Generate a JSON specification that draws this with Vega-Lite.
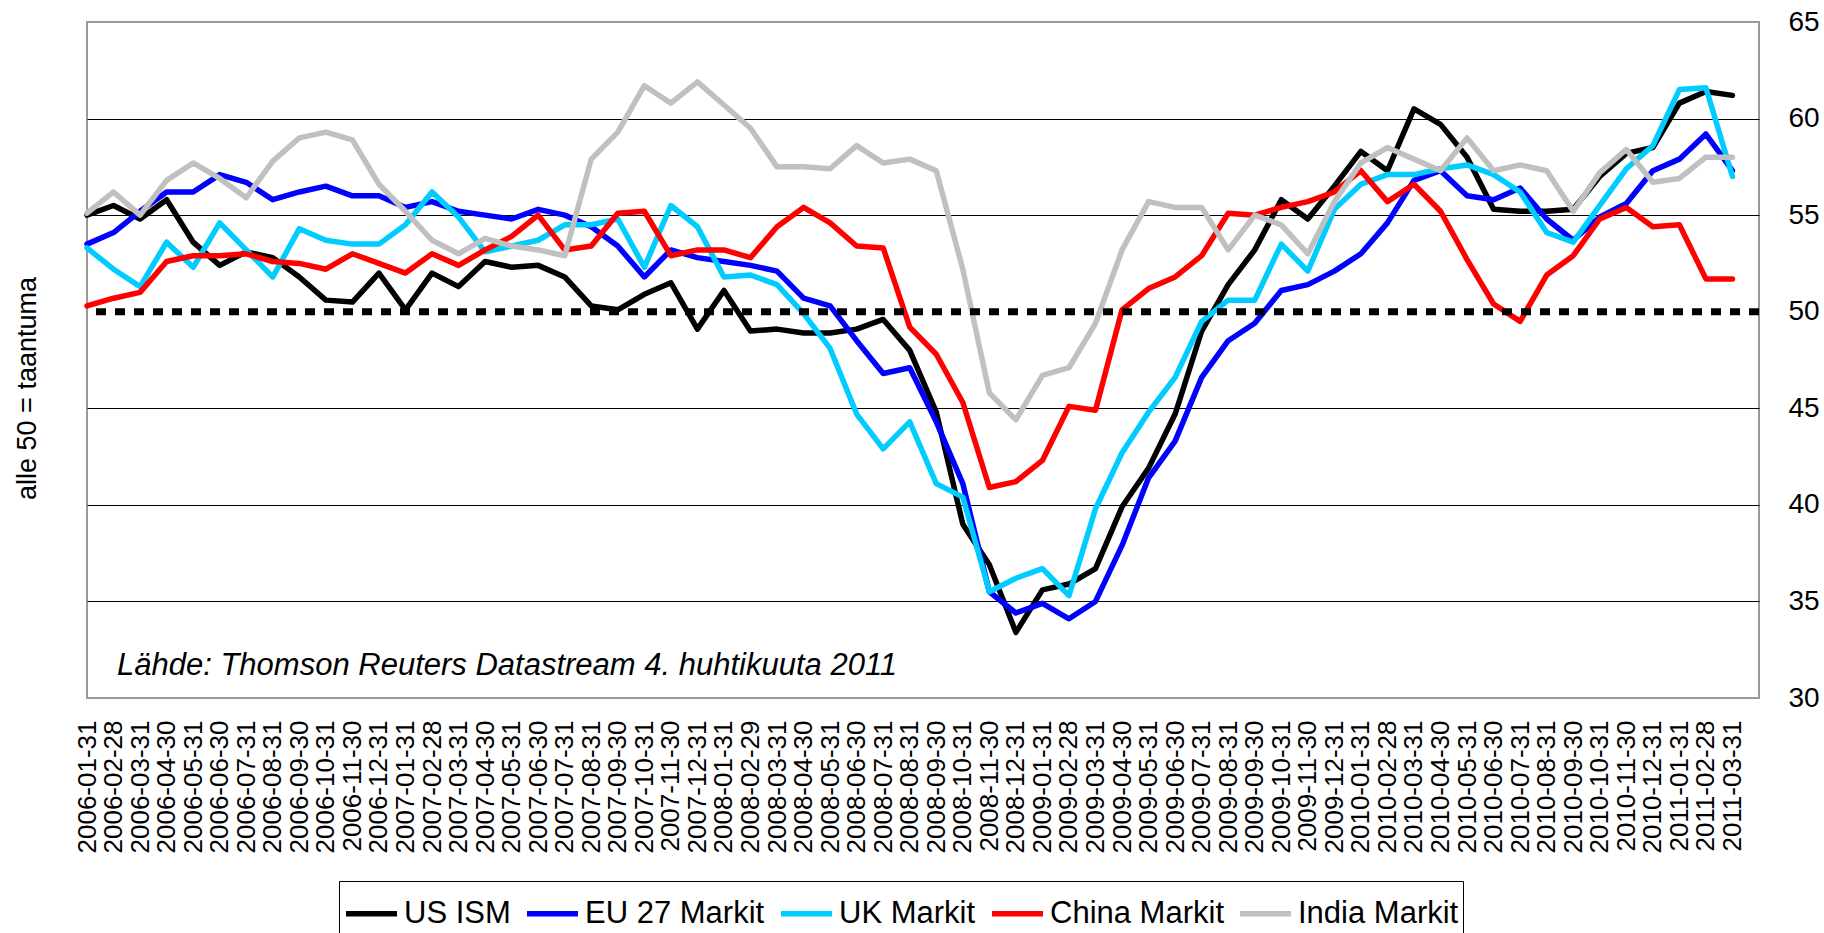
{
  "$schema": "https://vega.github.io/schema/vega-lite/v6.json",
  "autosize": {"type": "none"},
  "padding": {"left": 87, "top": 22, "right": 65, "bottom": 235},
  "width": 1672,
  "height": 676,
  "background": "white",
  "config": {
    "view": {"stroke": "#999999", "strokeWidth": 2},
    "font": "Liberation Sans",
    "axis": {"labelFont": "Liberation Sans", "titleFont": "Liberation Sans", "labelColor": "#000", "titleColor": "#000"},
    "legend": {"labelFont": "Liberation Sans"}
  },
  "datasets": {
    "pmi": [
      {"d":"2006-01-31","s":"US ISM","v":55.0},{"d":"2006-02-28","s":"US ISM","v":55.5},{"d":"2006-03-31","s":"US ISM","v":54.8},{"d":"2006-04-30","s":"US ISM","v":55.8},{"d":"2006-05-31","s":"US ISM","v":53.6},{"d":"2006-06-30","s":"US ISM","v":52.4},{"d":"2006-07-31","s":"US ISM","v":53.1},{"d":"2006-08-31","s":"US ISM","v":52.8},{"d":"2006-09-30","s":"US ISM","v":51.8},{"d":"2006-10-31","s":"US ISM","v":50.6},{"d":"2006-11-30","s":"US ISM","v":50.5},{"d":"2006-12-31","s":"US ISM","v":52.0},
      {"d":"2007-01-31","s":"US ISM","v":50.1},{"d":"2007-02-28","s":"US ISM","v":52.0},{"d":"2007-03-31","s":"US ISM","v":51.3},{"d":"2007-04-30","s":"US ISM","v":52.6},{"d":"2007-05-31","s":"US ISM","v":52.3},{"d":"2007-06-30","s":"US ISM","v":52.4},{"d":"2007-07-31","s":"US ISM","v":51.8},{"d":"2007-08-31","s":"US ISM","v":50.3},{"d":"2007-09-30","s":"US ISM","v":50.1},{"d":"2007-10-31","s":"US ISM","v":50.9},{"d":"2007-11-30","s":"US ISM","v":51.5},{"d":"2007-12-31","s":"US ISM","v":49.1},
      {"d":"2008-01-31","s":"US ISM","v":51.1},{"d":"2008-02-29","s":"US ISM","v":49.0},{"d":"2008-03-31","s":"US ISM","v":49.1},{"d":"2008-04-30","s":"US ISM","v":48.9},{"d":"2008-05-31","s":"US ISM","v":48.9},{"d":"2008-06-30","s":"US ISM","v":49.1},{"d":"2008-07-31","s":"US ISM","v":49.6},{"d":"2008-08-31","s":"US ISM","v":48.0},{"d":"2008-09-30","s":"US ISM","v":44.8},{"d":"2008-10-31","s":"US ISM","v":39.0},{"d":"2008-11-30","s":"US ISM","v":36.9},{"d":"2008-12-31","s":"US ISM","v":33.4},
      {"d":"2009-01-31","s":"US ISM","v":35.6},{"d":"2009-02-28","s":"US ISM","v":35.9},{"d":"2009-03-31","s":"US ISM","v":36.7},{"d":"2009-04-30","s":"US ISM","v":39.9},{"d":"2009-05-31","s":"US ISM","v":41.9},{"d":"2009-06-30","s":"US ISM","v":44.7},{"d":"2009-07-31","s":"US ISM","v":49.0},{"d":"2009-08-31","s":"US ISM","v":51.4},{"d":"2009-09-30","s":"US ISM","v":53.2},{"d":"2009-10-31","s":"US ISM","v":55.8},{"d":"2009-11-30","s":"US ISM","v":54.8},{"d":"2009-12-31","s":"US ISM","v":56.5},
      {"d":"2010-01-31","s":"US ISM","v":58.3},{"d":"2010-02-28","s":"US ISM","v":57.3},{"d":"2010-03-31","s":"US ISM","v":60.5},{"d":"2010-04-30","s":"US ISM","v":59.7},{"d":"2010-05-31","s":"US ISM","v":58.0},{"d":"2010-06-30","s":"US ISM","v":55.3},{"d":"2010-07-31","s":"US ISM","v":55.2},{"d":"2010-08-31","s":"US ISM","v":55.2},{"d":"2010-09-30","s":"US ISM","v":55.3},{"d":"2010-10-31","s":"US ISM","v":57.0},{"d":"2010-11-30","s":"US ISM","v":58.2},{"d":"2010-12-31","s":"US ISM","v":58.5},
      {"d":"2011-01-31","s":"US ISM","v":60.8},{"d":"2011-02-28","s":"US ISM","v":61.4},{"d":"2011-03-31","s":"US ISM","v":61.2},

      {"d":"2006-01-31","s":"EU 27 Markit","v":53.5},{"d":"2006-02-28","s":"EU 27 Markit","v":54.1},{"d":"2006-03-31","s":"EU 27 Markit","v":55.2},{"d":"2006-04-30","s":"EU 27 Markit","v":56.2},{"d":"2006-05-31","s":"EU 27 Markit","v":56.2},{"d":"2006-06-30","s":"EU 27 Markit","v":57.1},{"d":"2006-07-31","s":"EU 27 Markit","v":56.7},{"d":"2006-08-31","s":"EU 27 Markit","v":55.8},{"d":"2006-09-30","s":"EU 27 Markit","v":56.2},{"d":"2006-10-31","s":"EU 27 Markit","v":56.5},{"d":"2006-11-30","s":"EU 27 Markit","v":56.0},{"d":"2006-12-31","s":"EU 27 Markit","v":56.0},
      {"d":"2007-01-31","s":"EU 27 Markit","v":55.4},{"d":"2007-02-28","s":"EU 27 Markit","v":55.7},{"d":"2007-03-31","s":"EU 27 Markit","v":55.2},{"d":"2007-04-30","s":"EU 27 Markit","v":55.0},{"d":"2007-05-31","s":"EU 27 Markit","v":54.8},{"d":"2007-06-30","s":"EU 27 Markit","v":55.3},{"d":"2007-07-31","s":"EU 27 Markit","v":55.0},{"d":"2007-08-31","s":"EU 27 Markit","v":54.4},{"d":"2007-09-30","s":"EU 27 Markit","v":53.4},{"d":"2007-10-31","s":"EU 27 Markit","v":51.8},{"d":"2007-11-30","s":"EU 27 Markit","v":53.2},{"d":"2007-12-31","s":"EU 27 Markit","v":52.8},
      {"d":"2008-01-31","s":"EU 27 Markit","v":52.6},{"d":"2008-02-29","s":"EU 27 Markit","v":52.4},{"d":"2008-03-31","s":"EU 27 Markit","v":52.1},{"d":"2008-04-30","s":"EU 27 Markit","v":50.7},{"d":"2008-05-31","s":"EU 27 Markit","v":50.3},{"d":"2008-06-30","s":"EU 27 Markit","v":48.5},{"d":"2008-07-31","s":"EU 27 Markit","v":46.8},{"d":"2008-08-31","s":"EU 27 Markit","v":47.1},{"d":"2008-09-30","s":"EU 27 Markit","v":44.3},{"d":"2008-10-31","s":"EU 27 Markit","v":41.1},{"d":"2008-11-30","s":"EU 27 Markit","v":35.5},{"d":"2008-12-31","s":"EU 27 Markit","v":34.4},
      {"d":"2009-01-31","s":"EU 27 Markit","v":34.9},{"d":"2009-02-28","s":"EU 27 Markit","v":34.1},{"d":"2009-03-31","s":"EU 27 Markit","v":35.0},{"d":"2009-04-30","s":"EU 27 Markit","v":37.9},{"d":"2009-05-31","s":"EU 27 Markit","v":41.4},{"d":"2009-06-30","s":"EU 27 Markit","v":43.3},{"d":"2009-07-31","s":"EU 27 Markit","v":46.6},{"d":"2009-08-31","s":"EU 27 Markit","v":48.5},{"d":"2009-09-30","s":"EU 27 Markit","v":49.4},{"d":"2009-10-31","s":"EU 27 Markit","v":51.1},{"d":"2009-11-30","s":"EU 27 Markit","v":51.4},{"d":"2009-12-31","s":"EU 27 Markit","v":52.1},
      {"d":"2010-01-31","s":"EU 27 Markit","v":53.0},{"d":"2010-02-28","s":"EU 27 Markit","v":54.6},{"d":"2010-03-31","s":"EU 27 Markit","v":56.8},{"d":"2010-04-30","s":"EU 27 Markit","v":57.3},{"d":"2010-05-31","s":"EU 27 Markit","v":56.0},{"d":"2010-06-30","s":"EU 27 Markit","v":55.8},{"d":"2010-07-31","s":"EU 27 Markit","v":56.4},{"d":"2010-08-31","s":"EU 27 Markit","v":54.8},{"d":"2010-09-30","s":"EU 27 Markit","v":53.7},{"d":"2010-10-31","s":"EU 27 Markit","v":54.9},{"d":"2010-11-30","s":"EU 27 Markit","v":55.6},{"d":"2010-12-31","s":"EU 27 Markit","v":57.3},
      {"d":"2011-01-31","s":"EU 27 Markit","v":57.9},{"d":"2011-02-28","s":"EU 27 Markit","v":59.2},{"d":"2011-03-31","s":"EU 27 Markit","v":57.3},

      {"d":"2006-01-31","s":"UK Markit","v":53.3},{"d":"2006-02-28","s":"UK Markit","v":52.2},{"d":"2006-03-31","s":"UK Markit","v":51.3},{"d":"2006-04-30","s":"UK Markit","v":53.6},{"d":"2006-05-31","s":"UK Markit","v":52.3},{"d":"2006-06-30","s":"UK Markit","v":54.6},{"d":"2006-07-31","s":"UK Markit","v":53.2},{"d":"2006-08-31","s":"UK Markit","v":51.8},{"d":"2006-09-30","s":"UK Markit","v":54.3},{"d":"2006-10-31","s":"UK Markit","v":53.7},{"d":"2006-11-30","s":"UK Markit","v":53.5},{"d":"2006-12-31","s":"UK Markit","v":53.5},
      {"d":"2007-01-31","s":"UK Markit","v":54.5},{"d":"2007-02-28","s":"UK Markit","v":56.2},{"d":"2007-03-31","s":"UK Markit","v":54.9},{"d":"2007-04-30","s":"UK Markit","v":53.1},{"d":"2007-05-31","s":"UK Markit","v":53.4},{"d":"2007-06-30","s":"UK Markit","v":53.7},{"d":"2007-07-31","s":"UK Markit","v":54.5},{"d":"2007-08-31","s":"UK Markit","v":54.5},{"d":"2007-09-30","s":"UK Markit","v":54.8},{"d":"2007-10-31","s":"UK Markit","v":52.3},{"d":"2007-11-30","s":"UK Markit","v":55.5},{"d":"2007-12-31","s":"UK Markit","v":54.4},
      {"d":"2008-01-31","s":"UK Markit","v":51.8},{"d":"2008-02-29","s":"UK Markit","v":51.9},{"d":"2008-03-31","s":"UK Markit","v":51.4},{"d":"2008-04-30","s":"UK Markit","v":49.9},{"d":"2008-05-31","s":"UK Markit","v":48.1},{"d":"2008-06-30","s":"UK Markit","v":44.7},{"d":"2008-07-31","s":"UK Markit","v":42.9},{"d":"2008-08-31","s":"UK Markit","v":44.3},{"d":"2008-09-30","s":"UK Markit","v":41.1},{"d":"2008-10-31","s":"UK Markit","v":40.4},{"d":"2008-11-30","s":"UK Markit","v":35.5},{"d":"2008-12-31","s":"UK Markit","v":36.2},
      {"d":"2009-01-31","s":"UK Markit","v":36.7},{"d":"2009-02-28","s":"UK Markit","v":35.3},{"d":"2009-03-31","s":"UK Markit","v":39.8},{"d":"2009-04-30","s":"UK Markit","v":42.7},{"d":"2009-05-31","s":"UK Markit","v":44.8},{"d":"2009-06-30","s":"UK Markit","v":46.6},{"d":"2009-07-31","s":"UK Markit","v":49.5},{"d":"2009-08-31","s":"UK Markit","v":50.6},{"d":"2009-09-30","s":"UK Markit","v":50.6},{"d":"2009-10-31","s":"UK Markit","v":53.5},{"d":"2009-11-30","s":"UK Markit","v":52.1},{"d":"2009-12-31","s":"UK Markit","v":55.3},
      {"d":"2010-01-31","s":"UK Markit","v":56.6},{"d":"2010-02-28","s":"UK Markit","v":57.1},{"d":"2010-03-31","s":"UK Markit","v":57.1},{"d":"2010-04-30","s":"UK Markit","v":57.4},{"d":"2010-05-31","s":"UK Markit","v":57.6},{"d":"2010-06-30","s":"UK Markit","v":57.1},{"d":"2010-07-31","s":"UK Markit","v":56.2},{"d":"2010-08-31","s":"UK Markit","v":54.1},{"d":"2010-09-30","s":"UK Markit","v":53.6},{"d":"2010-10-31","s":"UK Markit","v":55.5},{"d":"2010-11-30","s":"UK Markit","v":57.4},{"d":"2010-12-31","s":"UK Markit","v":58.6},
      {"d":"2011-01-31","s":"UK Markit","v":61.5},{"d":"2011-02-28","s":"UK Markit","v":61.6},{"d":"2011-03-31","s":"UK Markit","v":57.0},

      {"d":"2006-01-31","s":"China Markit","v":50.3},{"d":"2006-02-28","s":"China Markit","v":50.7},{"d":"2006-03-31","s":"China Markit","v":51.0},{"d":"2006-04-30","s":"China Markit","v":52.6},{"d":"2006-05-31","s":"China Markit","v":52.9},{"d":"2006-06-30","s":"China Markit","v":52.9},{"d":"2006-07-31","s":"China Markit","v":53.0},{"d":"2006-08-31","s":"China Markit","v":52.6},{"d":"2006-09-30","s":"China Markit","v":52.5},{"d":"2006-10-31","s":"China Markit","v":52.2},{"d":"2006-11-30","s":"China Markit","v":53.0},{"d":"2006-12-31","s":"China Markit","v":52.5},
      {"d":"2007-01-31","s":"China Markit","v":52.0},{"d":"2007-02-28","s":"China Markit","v":53.0},{"d":"2007-03-31","s":"China Markit","v":52.4},{"d":"2007-04-30","s":"China Markit","v":53.2},{"d":"2007-05-31","s":"China Markit","v":53.9},{"d":"2007-06-30","s":"China Markit","v":55.0},{"d":"2007-07-31","s":"China Markit","v":53.2},{"d":"2007-08-31","s":"China Markit","v":53.4},{"d":"2007-09-30","s":"China Markit","v":55.1},{"d":"2007-10-31","s":"China Markit","v":55.2},{"d":"2007-11-30","s":"China Markit","v":52.9},{"d":"2007-12-31","s":"China Markit","v":53.2},
      {"d":"2008-01-31","s":"China Markit","v":53.2},{"d":"2008-02-29","s":"China Markit","v":52.8},{"d":"2008-03-31","s":"China Markit","v":54.4},{"d":"2008-04-30","s":"China Markit","v":55.4},{"d":"2008-05-31","s":"China Markit","v":54.6},{"d":"2008-06-30","s":"China Markit","v":53.4},{"d":"2008-07-31","s":"China Markit","v":53.3},{"d":"2008-08-31","s":"China Markit","v":49.2},{"d":"2008-09-30","s":"China Markit","v":47.8},{"d":"2008-10-31","s":"China Markit","v":45.3},{"d":"2008-11-30","s":"China Markit","v":40.9},{"d":"2008-12-31","s":"China Markit","v":41.2},
      {"d":"2009-01-31","s":"China Markit","v":42.3},{"d":"2009-02-28","s":"China Markit","v":45.1},{"d":"2009-03-31","s":"China Markit","v":44.9},{"d":"2009-04-30","s":"China Markit","v":50.1},{"d":"2009-05-31","s":"China Markit","v":51.2},{"d":"2009-06-30","s":"China Markit","v":51.8},{"d":"2009-07-31","s":"China Markit","v":52.9},{"d":"2009-08-31","s":"China Markit","v":55.1},{"d":"2009-09-30","s":"China Markit","v":55.0},{"d":"2009-10-31","s":"China Markit","v":55.4},{"d":"2009-11-30","s":"China Markit","v":55.7},{"d":"2009-12-31","s":"China Markit","v":56.2},
      {"d":"2010-01-31","s":"China Markit","v":57.3},{"d":"2010-02-28","s":"China Markit","v":55.7},{"d":"2010-03-31","s":"China Markit","v":56.6},{"d":"2010-04-30","s":"China Markit","v":55.2},{"d":"2010-05-31","s":"China Markit","v":52.7},{"d":"2010-06-30","s":"China Markit","v":50.4},{"d":"2010-07-31","s":"China Markit","v":49.5},{"d":"2010-08-31","s":"China Markit","v":51.9},{"d":"2010-09-30","s":"China Markit","v":52.9},{"d":"2010-10-31","s":"China Markit","v":54.8},{"d":"2010-11-30","s":"China Markit","v":55.4},{"d":"2010-12-31","s":"China Markit","v":54.4},
      {"d":"2011-01-31","s":"China Markit","v":54.5},{"d":"2011-02-28","s":"China Markit","v":51.7},{"d":"2011-03-31","s":"China Markit","v":51.7},

      {"d":"2006-01-31","s":"India Markit","v":55.1},{"d":"2006-02-28","s":"India Markit","v":56.2},{"d":"2006-03-31","s":"India Markit","v":55.0},{"d":"2006-04-30","s":"India Markit","v":56.8},{"d":"2006-05-31","s":"India Markit","v":57.7},{"d":"2006-06-30","s":"India Markit","v":56.9},{"d":"2006-07-31","s":"India Markit","v":55.9},{"d":"2006-08-31","s":"India Markit","v":57.8},{"d":"2006-09-30","s":"India Markit","v":59.0},{"d":"2006-10-31","s":"India Markit","v":59.3},{"d":"2006-11-30","s":"India Markit","v":58.9},{"d":"2006-12-31","s":"India Markit","v":56.6},
      {"d":"2007-01-31","s":"India Markit","v":55.2},{"d":"2007-02-28","s":"India Markit","v":53.7},{"d":"2007-03-31","s":"India Markit","v":53.0},{"d":"2007-04-30","s":"India Markit","v":53.8},{"d":"2007-05-31","s":"India Markit","v":53.4},{"d":"2007-06-30","s":"India Markit","v":53.2},{"d":"2007-07-31","s":"India Markit","v":52.9},{"d":"2007-08-31","s":"India Markit","v":57.9},{"d":"2007-09-30","s":"India Markit","v":59.3},{"d":"2007-10-31","s":"India Markit","v":61.7},{"d":"2007-11-30","s":"India Markit","v":60.8},{"d":"2007-12-31","s":"India Markit","v":61.9},
      {"d":"2008-01-31","s":"India Markit","v":60.7},{"d":"2008-02-29","s":"India Markit","v":59.5},{"d":"2008-03-31","s":"India Markit","v":57.5},{"d":"2008-04-30","s":"India Markit","v":57.5},{"d":"2008-05-31","s":"India Markit","v":57.4},{"d":"2008-06-30","s":"India Markit","v":58.6},{"d":"2008-07-31","s":"India Markit","v":57.7},{"d":"2008-08-31","s":"India Markit","v":57.9},{"d":"2008-09-30","s":"India Markit","v":57.3},{"d":"2008-10-31","s":"India Markit","v":52.2},{"d":"2008-11-30","s":"India Markit","v":45.8},{"d":"2008-12-31","s":"India Markit","v":44.4},
      {"d":"2009-01-31","s":"India Markit","v":46.7},{"d":"2009-02-28","s":"India Markit","v":47.1},{"d":"2009-03-31","s":"India Markit","v":49.4},{"d":"2009-04-30","s":"India Markit","v":53.2},{"d":"2009-05-31","s":"India Markit","v":55.7},{"d":"2009-06-30","s":"India Markit","v":55.4},{"d":"2009-07-31","s":"India Markit","v":55.4},{"d":"2009-08-31","s":"India Markit","v":53.2},{"d":"2009-09-30","s":"India Markit","v":55.0},{"d":"2009-10-31","s":"India Markit","v":54.5},{"d":"2009-11-30","s":"India Markit","v":53.0},{"d":"2009-12-31","s":"India Markit","v":55.7},
      {"d":"2010-01-31","s":"India Markit","v":57.7},{"d":"2010-02-28","s":"India Markit","v":58.5},{"d":"2010-03-31","s":"India Markit","v":57.9},{"d":"2010-04-30","s":"India Markit","v":57.3},{"d":"2010-05-31","s":"India Markit","v":59.0},{"d":"2010-06-30","s":"India Markit","v":57.3},{"d":"2010-07-31","s":"India Markit","v":57.6},{"d":"2010-08-31","s":"India Markit","v":57.3},{"d":"2010-09-30","s":"India Markit","v":55.2},{"d":"2010-10-31","s":"India Markit","v":57.2},{"d":"2010-11-30","s":"India Markit","v":58.4},{"d":"2010-12-31","s":"India Markit","v":56.7},
      {"d":"2011-01-31","s":"India Markit","v":56.9},{"d":"2011-02-28","s":"India Markit","v":58.0},{"d":"2011-03-31","s":"India Markit","v":58.0}
    ]
  },
  "layer": [
    {
      "data": {"name": "pmi"},
      "mark": {"type": "line", "strokeWidth": 5.5, "strokeJoin": "round", "strokeCap": "round"},
      "encoding": {
        "x": {
          "field": "d", "type": "ordinal",
          "scale": {"type": "point", "padding": 0.5, "align": 0},
          "axis": {"title": null, "labelAngle": -90, "labelFontSize": 26, "labelPadding": 22, "ticks": false, "tickSize": 0, "domain": false, "grid": false, "labelOverlap": false, "labelColor": "#000"}
        },
        "y": {
          "field": "v", "type": "quantitative",
          "scale": {"domain": [30, 65], "nice": false, "zero": false},
          "axis": {"orient": "right", "title": null, "values": [30, 35, 40, 45, 50, 55, 60, 65], "labelFontSize": 28, "labelAlign": "left", "labelPadding": 29, "ticks": false, "tickSize": 0, "domain": false, "grid": false, "labelFlush": false, "labelColor": "#000"}
        },
        "color": {
          "field": "s", "type": "nominal",
          "scale": {
            "domain": ["US ISM", "EU 27 Markit", "UK Markit", "China Markit", "India Markit"],
            "range": ["#000000", "#0000FF", "#00CCFF", "#FF0000", "#C0C0C0"]
          },
          "legend": {
            "title": null, "orient": "none", "legendX": 252, "legendY": 859, "direction": "horizontal",
            "symbolType": "stroke", "symbolSize": 2601, "symbolStrokeWidth": 5.5,
            "labelFontSize": 31, "labelColor": "#000", "labelOffset": 4, "columnPadding": 5,
            "strokeColor": "#000", "fillColor": "#fff", "padding": 4, "labelLimit": 400
          }
        }
      }
    },
    {
      "data": {"values": [{"level": 50}]},
      "mark": {"type": "rule", "color": "#000", "strokeWidth": 7, "strokeDash": [10, 9]},
      "encoding": {
        "y": {
          "field": "level", "type": "quantitative",
          "axis": {"orient": "left", "title": "alle 50 = taantuma", "titleFontSize": 27, "titleFontWeight": "normal", "titleX": -60, "titleY": 366, "titleAngle": -90, "titleAlign": "center", "titleBaseline": "middle", "labels": false, "ticks": false, "domain": false, "grid": true, "gridColor": "#000", "gridWidth": 1, "gridOpacity": 1, "values": [35, 40, 45, 55, 60]}
        }
      }
    },
    {
      "data": {"values": [{"note": "Lähde: Thomson Reuters Datastream 4. huhtikuuta 2011", "d": "2006-01-31", "yv": 31.2}]},
      "mark": {"type": "text", "font": "Liberation Sans", "fontStyle": "italic", "fontSize": 31, "align": "left", "baseline": "alphabetic", "dx": 30, "color": "#000"},
      "encoding": {
        "x": {"field": "d", "type": "ordinal"},
        "y": {"field": "yv", "type": "quantitative", "axis": null},
        "text": {"field": "note"}
      }
    }
  ],
  "resolve": {"axis": {"y": "independent"}}
}
